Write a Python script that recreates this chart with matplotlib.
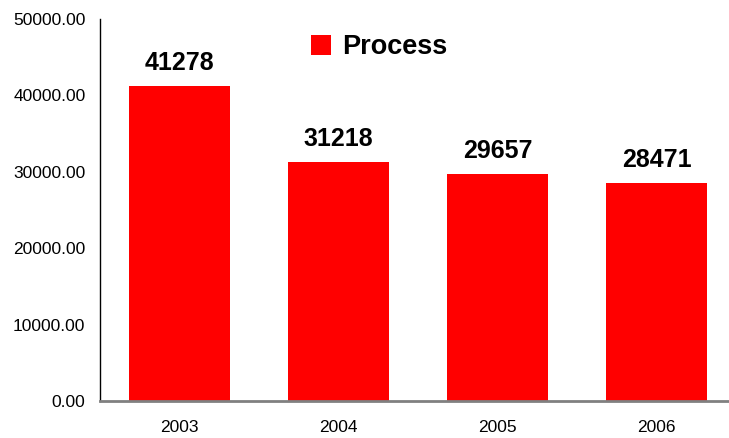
import matplotlib
matplotlib.use("Agg")
import matplotlib.pyplot as plt
from matplotlib.ticker import FormatStrFormatter

plt.rcParams["font.family"] = ["Liberation Sans", "DejaVu Sans"]

# chart data
years = ["2003", "2004", "2005", "2006"]
process = [41278, 31218, 29657, 28471]

W, H = 729, 438
fig = plt.figure(figsize=(W / 100, H / 100), dpi=100)
# axes: left edge x=100, bottom y=401, top y=19, four slots ~159px wide
ax = fig.add_axes([100 / W, (H - 401) / H, 636 / W, 382 / H])

bars = ax.bar(range(len(years)), process, width=0.63, color="#ff0000", label="Process")

ax.set_xlim(-0.5, len(years) - 0.5)
ax.set_ylim(0, 50000)
ax.set_yticks(range(0, 50001, 10000))
ax.yaxis.set_major_formatter(FormatStrFormatter("%.2f"))
ax.set_xticks(range(len(years)))
ax.set_xticklabels(years)

ax.tick_params(axis="y", length=0, pad=10.5, labelsize=12.5)
ax.tick_params(axis="x", length=0, pad=14, labelsize=12.5)

for side in ["top", "right"]:
    ax.spines[side].set_visible(False)
ax.spines["left"].set_color("black")
ax.spines["left"].set_linewidth(1.0)
ax.spines["bottom"].set_color("#808080")
ax.spines["bottom"].set_linewidth(2.0)
ax.spines["bottom"].set_zorder(3)

# value labels above bars
for i, v in enumerate(process):
    ax.annotate(str(v), (i, v), xytext=(0, 8), textcoords="offset points",
                ha="center", va="bottom", fontsize=18, fontweight="bold")

# legend
leg = ax.legend(loc="upper left", bbox_to_anchor=(192 / 636, 1.01), frameon=False,
                prop={"size": 19.5, "weight": "bold"}, handlelength=0.75,
                handleheight=0.75, handletextpad=0.4, borderaxespad=0.3)

fig.savefig("out.png", dpi=100)
